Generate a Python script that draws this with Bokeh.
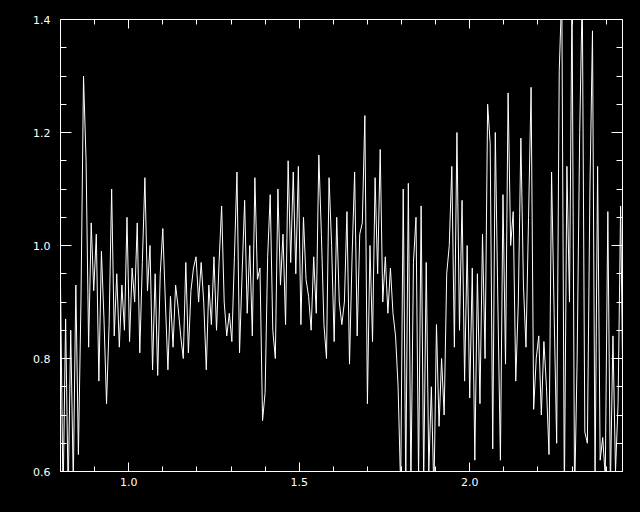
import numpy as np
from bokeh.plotting import figure
from bokeh.models import LinearAxis, FixedTicker, Range1d, PrintfTickFormatter
from bokeh.embed import file_html
from bokeh.resources import INLINE

x_start = 0.8
x_step = 0.0075
flux = [
    0.93, 0.55, 0.87, 0.56, 0.85, 0.58, 0.93, 0.63, 0.90, 1.30,
    1.15, 0.82, 1.04, 0.92, 1.02, 0.76, 0.99, 0.87, 0.72, 0.86,
    1.10, 0.84, 0.95, 0.82, 0.93, 0.85, 1.05, 0.83, 0.96, 0.90,
    1.04, 0.81, 0.97, 1.12, 0.92, 1.00, 0.78, 0.95, 0.77, 0.95,
    1.03, 0.90, 0.78, 0.91, 0.82, 0.93, 0.89, 0.84, 0.80, 0.97,
    0.81, 0.92, 0.96, 0.98, 0.90, 0.97, 0.90, 0.78, 0.93, 0.86,
    0.98, 0.85, 0.97, 1.07, 0.90, 0.84, 0.88, 0.83, 0.98, 1.13,
    0.81, 0.95, 1.08, 0.88, 1.00, 0.84, 1.12, 0.94, 0.96, 0.69,
    0.74, 0.98, 1.09, 0.85, 0.80, 1.10, 0.93, 1.02, 0.86, 1.15,
    0.97, 1.13, 0.95, 1.14, 0.86, 1.05, 0.94, 0.91, 0.85, 0.98,
    0.88, 1.16, 1.02, 0.86, 0.80, 1.12, 1.00, 0.83, 1.05, 0.90,
    0.86, 0.90, 1.06, 0.79, 0.98, 1.13, 0.84, 1.02, 1.04, 1.23,
    0.72, 1.00, 0.83, 1.12, 0.95, 1.17, 0.90, 0.98, 0.88, 0.96,
    0.88, 0.84, 0.75, 0.57, 1.10, 0.58, 1.11, 0.57, 0.97, 1.05,
    0.59, 1.07, 0.58, 0.97, 0.60, 0.75, 0.56, 0.86, 0.68, 0.80,
    0.70, 0.95, 1.00, 1.14, 0.82, 1.20, 0.85, 1.08, 0.76, 1.00,
    0.73, 0.96, 0.62, 0.95, 0.72, 1.02, 0.80, 1.25, 1.18, 0.64,
    1.20, 0.90, 0.62, 1.09, 0.79, 1.27, 1.00, 1.06, 0.76, 0.90,
    1.19, 0.93, 0.82, 1.05, 1.28, 0.71, 0.80, 0.84, 0.70, 0.83,
    0.75, 0.63, 1.13, 0.88, 0.65, 1.31, 1.45, 0.55, 1.14, 0.90,
    1.45, 0.55, 0.80, 1.20, 1.45, 0.67, 0.65, 1.10, 1.38, 0.58,
    1.14, 0.62, 0.66, 0.59, 1.06, 0.57, 0.84, 0.60, 0.72, 1.07,
    0.70,
]
wave = x_start + x_step * np.arange(len(flux))

x_min, x_max = 0.8, 2.448
y_min, y_max = 0.6, 1.4
x_major = [1.0, 1.5, 2.0]
x_minor = [0.9, 1.1, 1.2, 1.3, 1.4, 1.6, 1.7, 1.8, 1.9, 2.1, 2.2, 2.3, 2.4]
y_major = [0.6, 0.8, 1.0, 1.2, 1.4]
y_minor = [0.65, 0.7, 0.75, 0.85, 0.9, 0.95, 1.05, 1.1, 1.15, 1.25, 1.3, 1.35]

p = figure(width=640, height=512, output_backend="svg", toolbar_location=None,
           x_range=Range1d(x_min, x_max), y_range=Range1d(y_min - 1e-9, y_max + 1e-9),
           x_axis_type=None, y_axis_type=None)
p.min_border_left = 60
p.min_border_right = 18
p.min_border_top = 19
p.min_border_bottom = 41
p.background_fill_color = "black"
p.border_fill_color = "black"
p.outline_line_color = "white"
p.outline_line_width = 1
p.xgrid.visible = False
p.ygrid.visible = False

p.line(wave, flux, line_color="white", line_width=1)

font = "DejaVu Sans"

def style(ax, labels, major_len, minor_len, standoff):
    ax.axis_line_color = "white"
    ax.major_tick_line_color = "white"
    ax.minor_tick_line_color = "white"
    ax.major_tick_in = major_len
    ax.major_tick_out = 0
    ax.minor_tick_in = minor_len
    ax.minor_tick_out = 0
    ax.formatter = PrintfTickFormatter(format="%.1f")
    ax.major_label_text_color = "white" if labels else None
    ax.major_label_text_font = font
    ax.major_label_text_font_size = "11px" if labels else "0px"
    ax.major_label_standoff = standoff

for loc, lab in (("below", True), ("above", False)):
    ax = LinearAxis(ticker=FixedTicker(ticks=x_major, minor_ticks=x_minor))
    style(ax, lab, 9, 5, 6)
    p.add_layout(ax, loc)

for loc, lab in (("left", True), ("right", False)):
    ax = LinearAxis(ticker=FixedTicker(ticks=y_major, minor_ticks=y_minor))
    style(ax, lab, 11, 6, 10)
    p.add_layout(ax, loc)

html = file_html(p, INLINE)
html = html.replace("</head>", "<style>html,body{background:#000;margin:0;padding:0;overflow:hidden;}</style></head>", 1)
open("out.html", "w").write(html)
